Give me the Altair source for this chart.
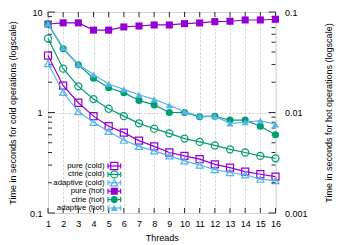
import altair as alt
import pandas as pd

threads = list(range(1, 17))
series_names = ["pure (cold)", "ctrie (cold)", "adaptive (cold)",
                "pure (hot)", "ctrie (hot)", "adaptive (hot)"]
series_colors = ["#9400d3", "#009e73", "#56b4e9", "#9400d3", "#009e73", "#56b4e9"]
series_shapes = ["square", "circle", "triangle-up", "square", "circle", "triangle-up"]

pure_cold = [3.69, 1.85, 1.25, 0.92, 0.73, 0.63, 0.525, 0.46, 0.40, 0.37, 0.343, 0.305, 0.283, 0.258, 0.243, 0.23]
ctrie_cold = [5.45, 2.73, 1.82, 1.36, 1.09, 0.92, 0.78, 0.69, 0.62, 0.55, 0.51, 0.47, 0.43, 0.40, 0.37, 0.35]
adaptive_cold = [3.07, 1.59, 1.02, 0.80, 0.65, 0.53, 0.46, 0.415, 0.37, 0.33, 0.30, 0.27, 0.253, 0.24, 0.217, 0.21]
pure_hot = [0.076, 0.078, 0.078, 0.066, 0.066, 0.071, 0.0726, 0.0743, 0.0743, 0.0766, 0.0778, 0.0802, 0.0809, 0.0833, 0.0833, 0.0847]
ctrie_hot = [0.076, 0.043, 0.0298, 0.0219, 0.0176, 0.0157, 0.0132, 0.0119, 0.0100, 0.0100, 0.00906, 0.00918, 0.0084, 0.0084, 0.0073, 0.0060]
adaptive_hot = [0.0765, 0.044, 0.030, 0.0239, 0.0192, 0.0170, 0.0150, 0.0135, 0.0118, 0.0102, 0.00918, 0.0092, 0.0078, 0.0080, 0.0083, 0.0076]

cold_ticks_major = [0.1, 1, 10]
cold_ticks_minor = [0.2, 0.3, 0.4, 0.5, 0.6, 0.7, 0.8, 0.9, 2, 3, 4, 5, 6, 7, 8, 9]
hot_ticks_major = [0.001, 0.01, 0.1]
hot_ticks_minor = [0.002, 0.003, 0.004, 0.005, 0.006, 0.007, 0.008, 0.009,
                   0.02, 0.03, 0.04, 0.05, 0.06, 0.07, 0.08, 0.09]

FONT = "Liberation Sans"
W, H = 227.5, 201
INK = "#303030"
GRID = "#c4c4c4"

xscale = alt.Scale(domain=[1, 16], nice=False, zero=False)
cold_scale = alt.Scale(type="log", domain=[0.1, 10], nice=False)
hot_scale = alt.Scale(type="log", domain=[0.001, 0.1], nice=False)
color_scale = alt.Scale(domain=series_names, range=series_colors)
shape_scale = alt.Scale(domain=series_names, range=series_shapes)

x_axis = alt.Axis(values=threads, title="Threads", grid=True, gridDash=[2, 2],
                  gridColor=GRID, gridWidth=0.8, ticks=False, domain=False,
                  labelPadding=6, labelFontSize=9, labelFont=FONT, labelColor="#000",
                  titleFont=FONT, titleFontSize=9, titleFontWeight="normal",
                  titleColor="#000", titleY=24, titleBaseline="middle", labelFlush=False)
cold_axis = alt.Axis(orient="left", values=cold_ticks_major, format="~g",
                     title="Time in seconds for cold operations (logscale)",
                     grid=True, gridDash=[2, 2], gridColor=GRID, gridWidth=0.8,
                     ticks=False, domain=False, labelPadding=6, labelFontSize=9,
                     labelFont=FONT, labelColor="#000", titleFont=FONT, titleFontSize=9,
                     titleFontWeight="normal", titleColor="#000", titleAngle=270,
                     titleX=-36, titleY=H / 2, titleAlign="center", titleBaseline="middle")
hot_axis = alt.Axis(orient="right", values=hot_ticks_major, format="~g",
                    title="Time in seconds for hot operations (logscale)",
                    grid=False, ticks=False, domain=False, labelPadding=9, labelFontSize=9,
                    labelFont=FONT, labelColor="#000", titleFont=FONT, titleFontSize=9,
                    titleFontWeight="normal", titleColor="#000", titleAngle=270,
                    titleX=52.5, titleY=H / 2, titleAlign="center", titleBaseline="middle")


def series_layer(name, vals, yscale, yaxis, filled):
    df = pd.DataFrame({"threads": threads, "value": vals, "series": name})
    base = alt.Chart(df).encode(
        x=alt.X("threads:Q", scale=xscale, axis=x_axis),
        y=alt.Y("value:Q", scale=yscale, axis=yaxis),
        color=alt.Color("series:N", scale=color_scale, legend=None),
    )
    line = base.mark_line(strokeWidth=1.2)
    pts = base.mark_point(filled=filled, size=50, strokeWidth=1.2, opacity=1).encode(
        shape=alt.Shape("series:N", scale=shape_scale, legend=None))
    return line + pts


def tick_rules(vals, yscale, yaxis, x0, x1):
    df = pd.DataFrame({"v": vals})
    return alt.Chart(df).mark_rule(color=INK, strokeWidth=1).encode(
        y=alt.Y("v:Q", scale=yscale, axis=yaxis), x=alt.value(x0), x2=alt.value(x1))


xt_df = pd.DataFrame({"t": threads})
x_ticks_bottom = alt.Chart(xt_df).mark_rule(color=INK, strokeWidth=1).encode(
    x=alt.X("t:Q", scale=xscale, axis=x_axis), y=alt.value(H), y2=alt.value(H - 5))
x_ticks_top = alt.Chart(xt_df).mark_rule(color=INK, strokeWidth=1).encode(
    x=alt.X("t:Q", scale=xscale, axis=x_axis), y=alt.value(0), y2=alt.value(5))

cold_group = alt.layer(
    x_ticks_bottom, x_ticks_top,
    tick_rules(cold_ticks_major, cold_scale, cold_axis, 0, 7),
    tick_rules(cold_ticks_minor, cold_scale, cold_axis, 0, 4),
    series_layer("pure (cold)", pure_cold, cold_scale, cold_axis, False),
    series_layer("ctrie (cold)", ctrie_cold, cold_scale, cold_axis, False),
    series_layer("adaptive (cold)", adaptive_cold, cold_scale, cold_axis, False),
)
hot_group = alt.layer(
    tick_rules(hot_ticks_major, hot_scale, hot_axis, W - 7, W),
    tick_rules(hot_ticks_minor, hot_scale, hot_axis, W - 4, W),
    series_layer("pure (hot)", pure_hot, hot_scale, hot_axis, True),
    series_layer("ctrie (hot)", ctrie_hot, hot_scale, hot_axis, True),
    series_layer("adaptive (hot)", adaptive_hot, hot_scale, hot_axis, True),
)

# key (legend) drawn gnuplot-style: label, then sample line with marker
leg_df = pd.DataFrame({"row": list(range(6)), "series": series_names})
leg_y = alt.Y("row:Q", scale=alt.Scale(domain=[0, 5], range=[154, 196]), axis=None)
leg_color = alt.Color("series:N", scale=color_scale, legend=None)
leg_shape = alt.Shape("series:N", scale=shape_scale, legend=None)
leg_base = alt.Chart(leg_df)
leg_text = leg_base.mark_text(align="right", baseline="middle", fontSize=7.8,
                              font=FONT, color="#000").encode(
    y=leg_y, x=alt.value(56.5), text="series:N")
leg_line = leg_base.mark_rule(strokeWidth=1.2).encode(
    y=leg_y, x=alt.value(60), x2=alt.value(72.7), color=leg_color)
leg_cap_l = leg_base.mark_point(shape="M0,-1L0,1", size=25, strokeWidth=1.2, opacity=1).encode(
    y=leg_y, x=alt.value(60), color=leg_color)
leg_cap_r = leg_base.mark_point(shape="M0,-1L0,1", size=25, strokeWidth=1.2, opacity=1).encode(
    y=leg_y, x=alt.value(72.7), color=leg_color)
leg_open = leg_base.transform_filter(alt.datum.row < 3).mark_point(
    filled=False, size=50, strokeWidth=1.2, opacity=1).encode(
    y=leg_y, x=alt.value(66.3), color=leg_color, shape=leg_shape)
leg_fill = leg_base.transform_filter(alt.datum.row >= 3).mark_point(
    filled=True, size=50, strokeWidth=1.2, opacity=1).encode(
    y=leg_y, x=alt.value(66.3), color=leg_color, shape=leg_shape)
legend_group = alt.layer(leg_text, leg_line, leg_cap_l, leg_cap_r, leg_open, leg_fill)

chart = alt.layer(cold_group, hot_group, legend_group).resolve_scale(
    y="independent"
).properties(
    width=W, height=H,
    autosize=alt.AutoSizeParams(type="none"),
    padding={"left": 40, "top": 4, "right": 58, "bottom": 28},
).configure_view(stroke=INK, strokeWidth=1.2).configure(background="white")

chart.save("out.html", embed_options={"renderer": "svg", "actions": False})
